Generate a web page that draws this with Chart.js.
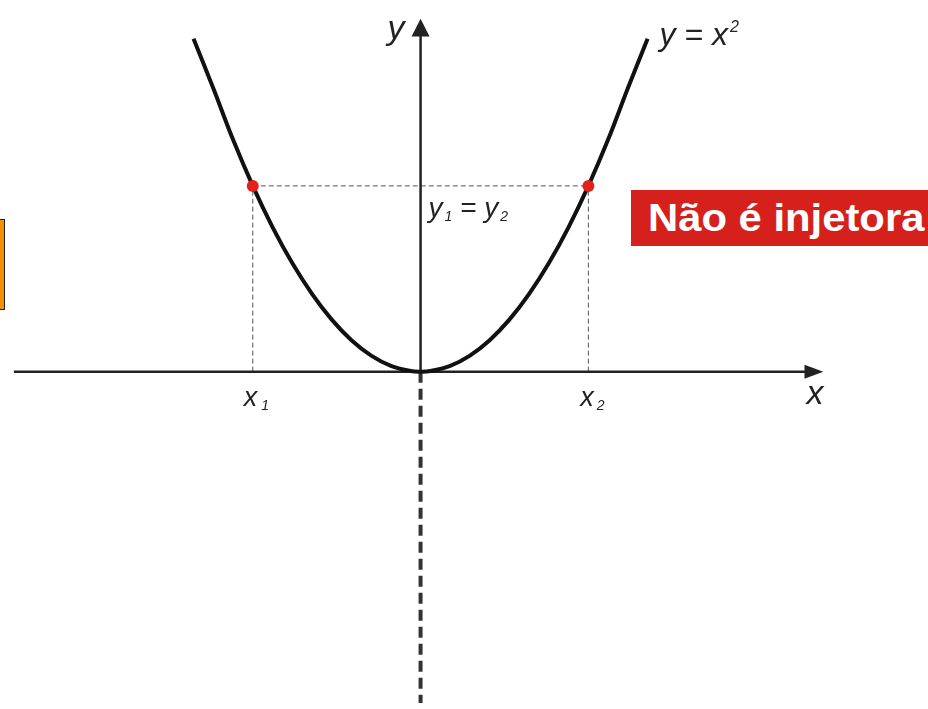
<!DOCTYPE html>
<html lang="pt">
<head>
    <meta charset="UTF-8">
    <title>y = x² - não é injetora</title>
    <script src="https://cdn.jsdelivr.net/npm/chart.js"></script>
    <style>
        body { margin: 0; background: #fff; overflow: hidden; }
        .wrap { position: relative; width: 928px; height: 709px; }
        #tag {
            position: absolute; left: 631px; top: 190px; width: 297px; height: 56px;
            background: #d5201c; color: #fff; box-sizing: border-box;
            font: bold 38px "Liberation Sans", Arial, sans-serif;
            padding-left: 17px; line-height: 56px; white-space: nowrap; overflow: hidden;
        }
        #tag span { display: inline-block; transform: scaleX(1.1); transform-origin: left center; }
        #side {
            position: absolute; left: -20px; top: 219px; width: 23px; height: 89px;
            background: #f39200; border: 1px solid #222;
        }
    </style>
</head>
<body>
    <div class="wrap">
        <canvas id="graph" width="928" height="709"></canvas>
        <div id="tag"><span>Não é injetora</span></div>
        <div id="side"></div>
    </div>
    <script>
        // parabola y = x²
        const curveX = [-2.3, -2.1, -1.9, -1.7, -1.5, -1.3, -1.1, -0.9, -0.7, -0.5, -0.3, -0.1, 0,
                        0.1, 0.3, 0.5, 0.7, 0.9, 1.1, 1.3, 1.5, 1.7, 1.9, 2.1, 2.3];
        const curveY = [5.18, 4.41, 3.61, 2.89, 2.25, 1.69, 1.21, 0.81, 0.49, 0.25, 0.09, 0.01, 0,
                        0.01, 0.09, 0.25, 0.49, 0.81, 1.21, 1.69, 2.25, 2.89, 3.61, 4.41, 5.18];

        // the two points with the same image
        const x1 = -1.7, x2 = 1.7;
        const y1 = 2.89;

        // axes extent
        const xAxisFrom = -4.12, xAxisTo = 3.9, xArrowTip = 4.08;
        const yAxisTop = 5.23, yArrowTip = 5.49, yAxisBottom = -5.2;

        const xMin = -4.2, xMax = 5.08, yMin = -5.153, yMax = 5.688;

        const pts = (xs, ys) => xs.map((x, i) => ({ x: x, y: ys[i] }));

        // higher order is drawn first (further back)
        const guide = { borderColor: '#555', borderWidth: 1, borderDash: [5, 3], pointRadius: 0, showLine: true, fill: false, order: 4 };
        const axis = { borderColor: '#222', borderWidth: 2.5, pointRadius: 0, showLine: true, fill: false, order: 3 };

        const labelsPlugin = {
            id: 'labels',
            afterDatasetsDraw(chart) {
                const ctx = chart.ctx;
                const sx = chart.scales.x, sy = chart.scales.y;
                const px = v => sx.getPixelForValue(v);
                const py = v => sy.getPixelForValue(v);
                ctx.save();
                ctx.fillStyle = '#222';
                // y arrow
                ctx.beginPath();
                ctx.moveTo(px(0), py(yArrowTip));
                ctx.lineTo(px(0) - 9, py(yAxisTop) + 1);
                ctx.lineTo(px(0) + 9, py(yAxisTop) + 1);
                ctx.closePath();
                ctx.fill();
                // x arrow
                ctx.beginPath();
                ctx.moveTo(px(xArrowTip), py(0));
                ctx.lineTo(px(xAxisTo) - 1, py(0) - 7);
                ctx.lineTo(px(xAxisTo) - 1, py(0) + 7);
                ctx.closePath();
                ctx.fill();

                const font = s => 'italic ' + s + 'px "Liberation Sans", Arial, sans-serif';
                const text = (t, x, y, s) => { ctx.font = font(s); ctx.fillText(t, x, y); return x + ctx.measureText(t).width; };
                ctx.textBaseline = 'alphabetic';
                ctx.textAlign = 'left';

                // axis names
                text('y', px(0) - 33, py(yArrowTip) + 20, 34);
                text('x', px(xAxisTo) + 1, py(0) + 32, 34);

                // y = x²
                let e = text('y = x', px(2.42), py(5.2) + 8, 32);
                text('2', e + 2, py(5.2) - 5, 16);

                // y1 = y2
                e = text('y', px(0.08), py(y1) + 31, 28);
                e = text('1', e + 2, py(y1) + 35, 14);
                e = text(' = y', e, py(y1) + 31, 28);
                text('2', e + 2, py(y1) + 35, 14);

                // x1, x2
                e = text('x', px(x1) - 9, py(0) + 34, 27);
                text('1', e + 4, py(0) + 38, 14);
                e = text('x', px(x2) - 8, py(0) + 34, 27);
                text('2', e + 3, py(0) + 38, 14);
                ctx.restore();
            }
        };

        new Chart(document.getElementById('graph'), {
            type: 'scatter',
            data: {
                datasets: [
                    Object.assign({ data: [{ x: x1, y: y1 }, { x: x2, y: y1 }] }, guide),
                    Object.assign({ data: [{ x: x1, y: 0 }, { x: x1, y: y1 }] }, guide),
                    Object.assign({ data: [{ x: x2, y: 0 }, { x: x2, y: y1 }] }, guide),
                    Object.assign({ data: [{ x: xAxisFrom, y: 0 }, { x: xAxisTo, y: 0 }] }, axis),
                    Object.assign({ data: [{ x: 0, y: 0 }, { x: 0, y: yAxisTop }] }, axis),
                    Object.assign({ data: [{ x: 0, y: 0 }, { x: 0, y: yAxisBottom }] }, axis, { borderWidth: 4, borderDash: [11, 6], borderColor: '#333' }),
                    {
                        data: pts(curveX, curveY),
                        showLine: true, borderColor: '#111', borderWidth: 4, tension: 0.4,
                        pointRadius: 0, fill: false, order: 2
                    },
                    {
                        data: [{ x: x1, y: y1 }, { x: x2, y: y1 }],
                        pointRadius: 6, backgroundColor: '#e3201b', borderColor: '#e3201b', borderWidth: 0, order: 1
                    }
                ]
            },
            options: {
                responsive: false,
                animation: false,
                layout: { padding: 0 },
                plugins: { legend: { display: false }, tooltip: { enabled: false } },
                scales: {
                    x: { type: 'linear', min: xMin, max: xMax, display: false },
                    y: { type: 'linear', min: yMin, max: yMax, display: false }
                }
            },
            plugins: [labelsPlugin]
        });
    </script>
</body>
</html>
